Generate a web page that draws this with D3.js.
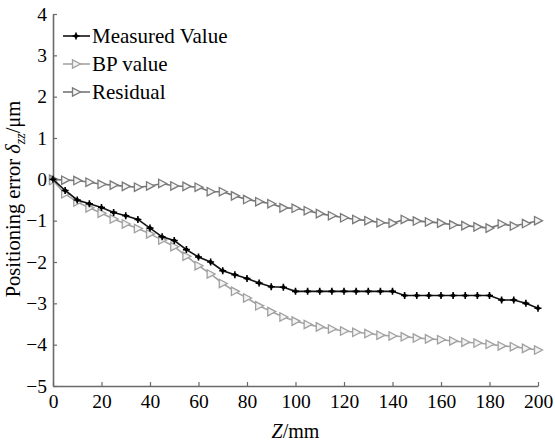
<!DOCTYPE html>
<html>
<head>
<meta charset="utf-8">
<script src="https://cdn.jsdelivr.net/npm/d3@7"></script>
<style>
  body { margin: 0; background: #fff; }
  svg text { font-family: "Liberation Serif", "Times New Roman", serif; fill: #000; }
</style>
</head>
<body>
<div id="chart"></div>
<script>
// positions along Z, mm
let zPos = [0, 5, 10, 15, 20, 25, 30, 35, 40, 45, 50, 55, 60, 65, 70, 75, 80, 85, 90, 95, 100,
  105, 110, 115, 120, 125, 130, 135, 140, 145, 150, 155, 160, 165, 170, 175, 180, 185, 190, 195, 200];

let measured = [0, -0.27, -0.5, -0.59, -0.68, -0.8, -0.88, -0.97, -1.18, -1.39, -1.48, -1.7, -1.88, -2.0, -2.21,
  -2.31, -2.4, -2.51, -2.6, -2.61, -2.71, -2.71, -2.71, -2.71, -2.71, -2.71, -2.71, -2.71, -2.71,
  -2.81, -2.81, -2.81, -2.81, -2.81, -2.81, -2.81, -2.81, -2.92, -2.92, -3.0, -3.12];

let bpValue = [-0.03, -0.35, -0.55, -0.69, -0.82, -0.96, -1.08, -1.19, -1.32, -1.47, -1.63, -1.86, -2.09, -2.29, -2.52,
  -2.71, -2.87, -3.06, -3.2, -3.33, -3.43, -3.51, -3.57, -3.62, -3.67, -3.7, -3.73, -3.77, -3.79,
  -3.81, -3.84, -3.86, -3.88, -3.91, -3.94, -3.96, -3.99, -4.03, -4.05, -4.09, -4.13];

let residual = [0, -0.02, -0.03, -0.07, -0.12, -0.14, -0.17, -0.19, -0.16, -0.1, -0.16, -0.17, -0.19, -0.3, -0.3,
  -0.4, -0.49, -0.54, -0.59, -0.69, -0.7, -0.76, -0.83, -0.88, -0.93, -0.97, -1.0, -1.05, -1.06,
  -0.97, -1.01, -1.03, -1.06, -1.1, -1.12, -1.15, -1.18, -1.08, -1.13, -1.07, -1.0];

let xTicks = [0, 20, 40, 60, 80, 100, 120, 140, 160, 180, 200];
let yTicks = [4, 3, 2, 1, 0, -1, -2, -3, -4, -5];
let seriesNames = ["Measured Value", "BP value", "Residual"];

let serif = "'Liberation Serif', 'Times New Roman', serif";

let margin = {top: 14, right: 17, bottom: 57, left: 53},
    width = 555 - margin.left - margin.right,
    height = 443 - margin.top - margin.bottom;

let svg = d3.select("#chart").append("svg")
  .attr("width", 555)
  .attr("height", 443)
  .style("font-family", serif);

let g = svg.append("g")
  .attr("transform", "translate(" + margin.left + "," + margin.top + ")");

let x = d3.scaleLinear().domain([0, 200]).range([0, width]);
let y = d3.scaleLinear().domain([-5, 4]).range([height, 0]);

let axisColor = "#6a6a6a";

let xAxis = g.append("g")
  .attr("transform", "translate(0," + height + ")")
  .call(d3.axisBottom(x).tickValues(xTicks).tickSize(-4).tickSizeOuter(0).tickPadding(7));

let yAxis = g.append("g")
  .call(d3.axisLeft(y).tickValues(yTicks).tickSize(-4).tickSizeOuter(0).tickPadding(6));

[xAxis, yAxis].forEach(function (a) {
  a.attr("font-family", null).attr("font-size", null);
  a.select(".domain").attr("stroke", axisColor).attr("stroke-width", 1.6);
  a.selectAll(".tick line").attr("stroke", axisColor).attr("stroke-width", 1.2);
  a.selectAll(".tick text")
    .style("font-family", serif)
    .style("font-size", "19.5px")
    .attr("fill", "#000");
});
xAxis.selectAll(".tick text").attr("dy", "0.75em");

// series styles
let styles = [
  {values: measured, line: "#111", marker: "plus"},
  {values: bpValue, line: "#a4a4a4", marker: "tri", stroke: "#a0a0a0"},
  {values: residual, line: "#767676", marker: "tri", stroke: "#7a7a7a"}
];

function drawMarker(sel, s) {
  if (s.marker === "plus") {
    sel.append("path")
      .attr("d", "M-3.5,0H3.5M0,-3.5V3.5")
      .attr("stroke", "#000")
      .attr("stroke-width", 1.6);
    sel.append("circle").attr("r", 2).attr("fill", "#000");
  } else {
    sel.append("path")
      .attr("d", "M-3.5,-4.2L4.5,0L-3.5,4.2Z")
      .attr("fill", "#f4f4f4")
      .attr("stroke", s.stroke)
      .attr("stroke-width", 1.3);
  }
}

let line = d3.line()
  .x(function (d) { return x(d[0]); })
  .y(function (d) { return y(d[1]); });

// draw residual & BP first, then measured on top
[2, 1, 0].forEach(function (k) {
  let s = styles[k];
  let pts = zPos.map(function (z, i) { return [z, s.values[i]]; });
  g.append("path")
    .datum(pts)
    .attr("fill", "none")
    .attr("stroke", s.line)
    .attr("stroke-width", 1.6)
    .attr("d", line);
  g.selectAll(".m" + k)
    .data(pts)
    .enter().append("g")
    .attr("class", "m" + k)
    .attr("transform", function (d) { return "translate(" + x(d[0]) + "," + y(d[1]) + ")"; })
    .each(function () { drawMarker(d3.select(this), s); });
});

// legend
let legend = g.append("g").attr("transform", "translate(10,22)");
seriesNames.forEach(function (name, i) {
  let s = styles[i];
  let row = legend.append("g").attr("transform", "translate(0," + (i * 28) + ")");
  row.append("line")
    .attr("x1", 0).attr("x2", 27)
    .attr("stroke", s.line).attr("stroke-width", 1.6);
  drawMarker(row.append("g").attr("transform", "translate(13,0)"), s);
  row.append("text")
    .attr("x", 29).attr("y", 7)
    .style("font-family", serif)
    .style("font-size", "21px")
    .text(name);
});

// axis titles
let xt = svg.append("text")
  .attr("x", margin.left + width / 2)
  .attr("y", 438)
  .attr("text-anchor", "middle")
  .style("font-family", serif)
  .style("font-size", "20px");
xt.append("tspan").style("font-style", "italic").text("Z");
xt.append("tspan").text("/mm");

let yt = svg.append("text")
  .attr("transform", "translate(20,199) rotate(-90)")
  .attr("text-anchor", "middle")
  .style("font-family", serif)
  .style("font-size", "20.5px");
yt.append("tspan").text("Positioning error ");
yt.append("tspan").style("font-style", "italic").text("δ");
yt.append("tspan").style("font-style", "italic").style("font-size", "14px").attr("dy", 5).text("zz");
yt.append("tspan").attr("dy", -5).text("/μm");
</script>
</body>
</html>
